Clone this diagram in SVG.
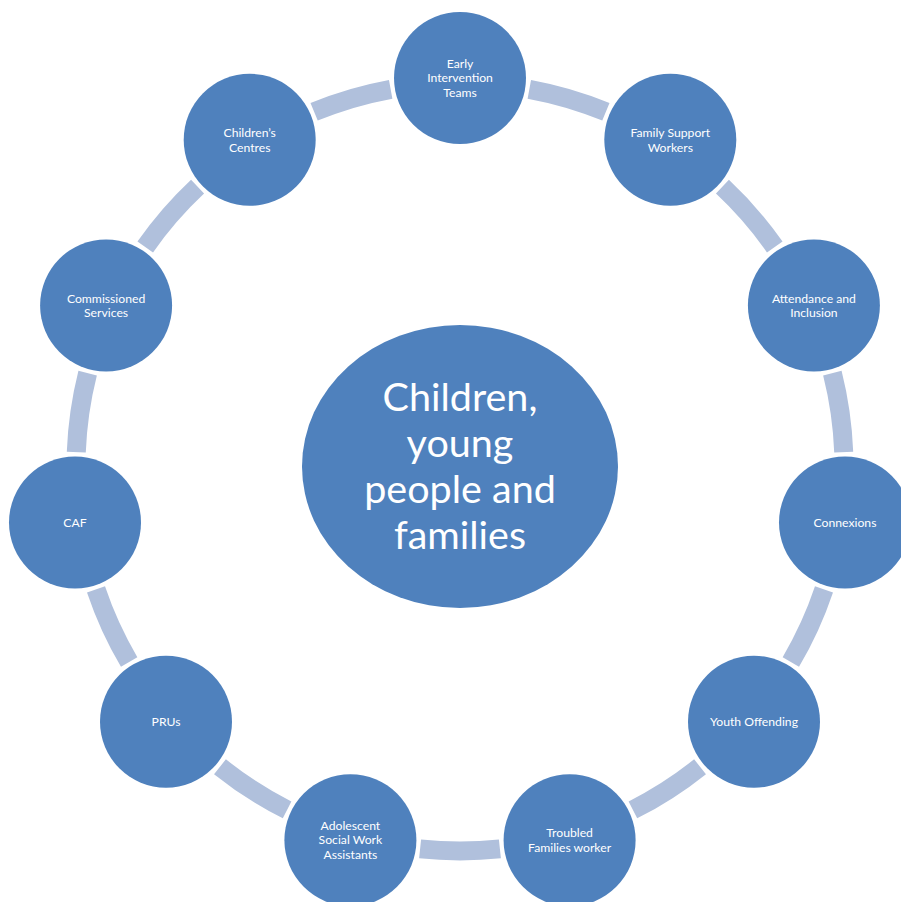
<svg xmlns="http://www.w3.org/2000/svg" width="901" height="902" viewBox="0 0 901 902">
<style>
.arc{fill:none;stroke:#b0c0dc;stroke-width:19;stroke-linecap:butt}
.node{fill:#4f81bd}
.lbl{font-family:Lato,"Liberation Sans",sans-serif;font-size:12.2px;fill:#ffffff;text-anchor:middle}
.big{font-family:Lato,"Liberation Sans",sans-serif;font-size:39.5px;fill:#ffffff;text-anchor:middle}
</style>
<rect width="901" height="902" fill="#ffffff"/>
<g id="connectors">
<path class="arc" d="M529.32 89.31 A384 384 0 0 1 605.89 111.79"/>
<path class="arc" d="M722.44 186.68 A384 384 0 0 1 774.76 247.04"/>
<path class="arc" d="M832.36 373.16 A384 384 0 0 1 843.71 452.14"/>
<path class="arc" d="M823.99 589.36 A384 384 0 0 1 790.84 661.95"/>
<path class="arc" d="M700.04 766.73 A384 384 0 0 1 632.90 809.87"/>
<path class="arc" d="M499.90 848.92 A384 384 0 0 1 420.10 848.92"/>
<path class="arc" d="M287.10 809.87 A384 384 0 0 1 219.96 766.73"/>
<path class="arc" d="M129.16 661.95 A384 384 0 0 1 96.01 589.36"/>
<path class="arc" d="M76.29 452.14 A384 384 0 0 1 87.64 373.16"/>
<path class="arc" d="M145.24 247.04 A384 384 0 0 1 197.56 186.68"/>
<path class="arc" d="M314.11 111.79 A384 384 0 0 1 390.68 89.31"/>
</g>
<g id="center">
<ellipse class="node" cx="460" cy="466.5" rx="158" ry="141.5"/>
<text class="big" x="460" y="411">Children,</text>
<text class="big" x="460" y="457">young</text>
<text class="big" x="460" y="503">people and</text>
<text class="big" x="460" y="549">families</text>
</g>
<g id="early-intervention">
<circle class="node" cx="460" cy="78" r="66"/>
<text class="lbl" x="460" y="67.5">Early</text>
<text class="lbl" x="460" y="82.2">Intervention</text>
<text class="lbl" x="460" y="96.9">Teams</text>
</g>
<g id="family-support">
<circle class="node" cx="670.3" cy="139.8" r="66"/>
<text class="lbl" x="670.3" y="136.9">Family Support</text>
<text class="lbl" x="670.3" y="151.6">Workers</text>
</g>
<g id="attendance">
<circle class="node" cx="813.9" cy="305.4" r="66"/>
<text class="lbl" x="813.9" y="302.5">Attendance and</text>
<text class="lbl" x="813.9" y="317.2">Inclusion</text>
</g>
<g id="connexions">
<circle class="node" cx="845" cy="522.4" r="66"/>
<text class="lbl" x="845" y="526.8">Connexions</text>
</g>
<g id="youth-offending">
<circle class="node" cx="754" cy="721.7" r="66"/>
<text class="lbl" x="754" y="726.1">Youth Offending</text>
</g>
<g id="troubled-families">
<circle class="node" cx="569.6" cy="840.2" r="66"/>
<text class="lbl" x="569.6" y="837.3">Troubled</text>
<text class="lbl" x="569.6" y="852">Families worker</text>
</g>
<g id="adolescent-swa">
<circle class="node" cx="350.4" cy="840.2" r="66"/>
<text class="lbl" x="350.4" y="829.7">Adolescent</text>
<text class="lbl" x="350.4" y="844.4">Social Work</text>
<text class="lbl" x="350.4" y="859.1">Assistants</text>
</g>
<g id="prus">
<circle class="node" cx="166" cy="721.7" r="66"/>
<text class="lbl" x="166" y="726.1">PRUs</text>
</g>
<g id="caf">
<circle class="node" cx="75" cy="522.4" r="66"/>
<text class="lbl" x="75" y="526.8">CAF</text>
</g>
<g id="commissioned">
<circle class="node" cx="106.1" cy="305.4" r="66"/>
<text class="lbl" x="106.1" y="302.5">Commissioned</text>
<text class="lbl" x="106.1" y="317.2">Services</text>
</g>
<g id="childrens-centres">
<circle class="node" cx="249.7" cy="139.8" r="66"/>
<text class="lbl" x="249.7" y="136.9">Children’s</text>
<text class="lbl" x="249.7" y="151.6">Centres</text>
</g>
</svg>
